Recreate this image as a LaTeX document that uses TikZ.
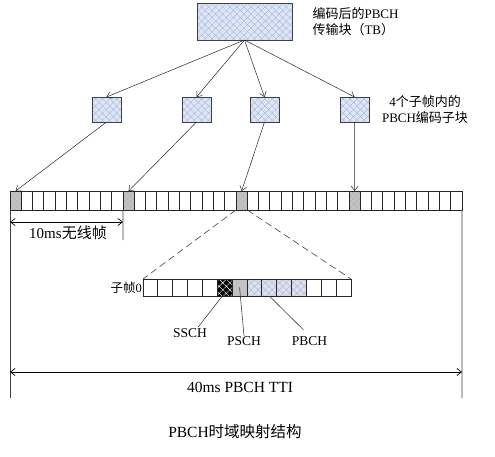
\documentclass[tikz,border=0pt]{standalone}
\usepackage{fontspec}
\setmainfont{Liberation Serif}
\newfontfamily\cjk{Noto Sans CJK SC}
\usetikzlibrary{patterns.meta,arrows.meta,calc}
\definecolor{boxfill}{HTML}{DDE5F5}
\definecolor{hatchc}{HTML}{A3B3DD}
\definecolor{cellgray}{HTML}{C2C2C2}
\definecolor{pbchfill}{HTML}{DCE0EC}
\begin{document}
\begin{tikzpicture}[x=1pt,y=-1pt,
  hbox/.style={draw=black!75, line width=0.9pt, inner sep=0pt, outer sep=0pt,
    preaction={fill=boxfill}, pattern={Hatch[angle=45,distance=5pt,line width=0.35pt]}, pattern color=hatchc},
  cell/.style={draw=black!85, line width=1pt, fill=white, minimum width=11.3pt, minimum height=19pt, inner sep=0pt, outer sep=0pt},
  gcell/.style={cell, preaction={fill=cellgray}, pattern={Hatch[angle=45,distance=4pt,line width=0.3pt]}, pattern color=black!30},
  scell/.style={draw=black!85, line width=1pt, fill=white, minimum width=14.857pt, minimum height=17pt, inner sep=0pt, outer sep=0pt},
  sscell/.style={scell, preaction={fill=black}, pattern={Hatch[angle=45,distance=5pt,line width=0.4pt]}, pattern color=white},
  pscell/.style={scell, fill=cellgray},
  pbcell/.style={scell, preaction={fill=pbchfill}, pattern={Hatch[angle=45,distance=5pt,line width=0.35pt]}, pattern color=hatchc},
  arr/.style={-{Straight Barb[length=4.5pt,width=7pt]}, line width=0.5pt, draw=black!85},
  dim/.style={{Straight Barb[length=4.5pt,width=7pt]}-{Straight Barb[length=4.5pt,width=7pt]}, line width=0.7pt},
  thinline/.style={line width=0.6pt, draw=black!75},
  lbl/.style={inner sep=1pt, font=\fontsize{13.5}{15}\selectfont}
]
\path[use as bounding box] (0,0) rectangle (495,456);

% top box and sub blocks
\node[hbox, minimum width=95pt, minimum height=37pt] (tb) at (244.5,21.5) {};
\node[anchor=west, align=left, font=\fontsize{13}{16}\selectfont] (tbl) at (309,22) {{\cjk 编码后的}PBCH\\ {\cjk 传输块（}TB{\cjk ）}};

\node[hbox, minimum width=29pt, minimum height=25pt] (s1) at (106.5,109.5) {};
\node[hbox, minimum width=29pt, minimum height=25pt] (s2) at (196.5,109.5) {};
\node[hbox, minimum width=29pt, minimum height=25pt] (s3) at (264.5,109.5) {};
\node[hbox, minimum width=29pt, minimum height=25pt] (s4) at (354.6,109.5) {};
\node[align=center, font=\fontsize{13}{16}\selectfont] (sl) at (425,110) {4{\cjk 个子帧内的}\\PBCH{\cjk 编码子块}};

\foreach \k in {1,2,3,4} \draw[arr] (tb.south) -- (s\k.north);

% main bar
\foreach \i in {0,...,39}
  \node[cell] (c\i) at ({15.65+11.3*\i},200.5) {};
\foreach \i/\g in {0/0,10/1,20/2,30/3}
  \node[gcell] (g\g) at ({15.65+11.3*\i},200.5) {};

\draw[arr] (s1.south) -- (g0.north);
\draw[arr] (s2.south) -- (g1.north);
\draw[arr] (s3.south) -- (g2.north);
\draw[arr] (s4.south) -- (g3.north);

% dimension lines
\coordinate (lb) at (10,398);
\coordinate (rb) at (462,398);
\coordinate (tk) at (123,240);
\draw[thinline] (g0.south west) -- (lb);
\draw[thinline] (c39.south east) -- (rb);
\draw[thinline] (g1.south west) -- (tk);
\coordinate (a10l) at (10,222);
\coordinate (a10r) at (123,222);
\draw[dim] (a10l) -- (a10r);
\node[font=\fontsize{15}{17}\selectfont] (t10) at (68,233) {10ms{\cjk 无线帧}};
\coordinate (a40l) at (10,372);
\coordinate (a40r) at (462,372);
\draw[dim] (a40l) -- (a40r);
\node[font=\fontsize{15.5}{17}\selectfont] (t40) at (240,387) {40ms PBCH TTI};

% subframe
\foreach \i in {0,...,13}
  \node[scell] (sc\i) at ({150.43+14.857*\i},287.5) {};
\node[sscell] (ss) at ({150.43+14.857*5},287.5) {};
\node[pscell] (ps) at ({150.43+14.857*6},287.5) {};
\foreach \i in {7,...,10}
  \node[pbcell] (pb\i) at ({150.43+14.857*\i},287.5) {};

\draw[thinline, dash pattern=on 7pt off 4pt] (g2.south west) -- (sc0.north west);
\draw[thinline, dash pattern=on 7pt off 4pt] (g2.south east) -- (sc13.north east);

\node[anchor=east, font=\fontsize{12.5}{14}\selectfont, inner sep=1pt] (sf0) at (sc0.west) {{\cjk 子帧}0};

\node[lbl] (ssch) at (190,333) {SSCH};
\node[lbl] (psch) at (244,341.5) {PSCH};
\node[lbl] (pbch) at (309.5,341.5) {PBCH};
\draw[thinline] ($(ss.south)+(0,-3)$) -- ($(ssch.north)+(8,0)$);
\draw[thinline] (ps.center) -- (psch.north);
\draw[thinline] (pb8.south) -- ($(pbch.north)+(-6,-6)$);

% caption
\node[font=\fontsize{15.5}{17}\selectfont] (cap) at (235,432) {PBCH{\cjk 时域映射结构}};
\end{tikzpicture}
\end{document}
